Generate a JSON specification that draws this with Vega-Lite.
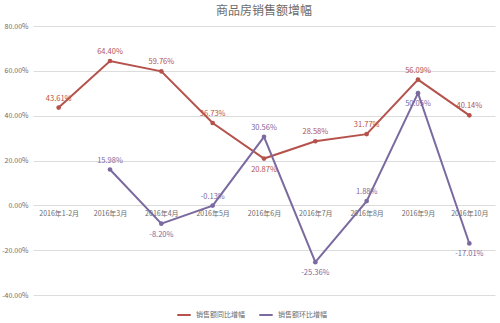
{
  "$schema": "https://vega.github.io/schema/vega-lite/v6.json",
  "width": 462,
  "height": 269,
  "autosize": {"type": "none"},
  "padding": {"left": 33, "top": 26, "right": 5, "bottom": 28},
  "background": "white",
  "title": {"text": "商品房销售额增幅", "fontSize": 12, "fontWeight": "normal", "color": "#6b6b6b", "font": "Noto Sans CJK SC", "anchor": "middle", "offset": 4},
  "config": {
    "view": {"stroke": null},
    "font": "Noto Sans CJK SC",
    "axis": {"labelFont": "Noto Sans CJK SC", "labelColor": "#6b6b6b", "labelFontSize": 7}
  },
  "data": {"values": [
    {"month": "2016年1-2月", "series": "销售额同比增幅", "v": 43.61},
    {"month": "2016年3月", "series": "销售额同比增幅", "v": 64.40},
    {"month": "2016年4月", "series": "销售额同比增幅", "v": 59.76},
    {"month": "2016年5月", "series": "销售额同比增幅", "v": 36.73},
    {"month": "2016年6月", "series": "销售额同比增幅", "v": 20.87},
    {"month": "2016年7月", "series": "销售额同比增幅", "v": 28.58},
    {"month": "2016年8月", "series": "销售额同比增幅", "v": 31.77},
    {"month": "2016年9月", "series": "销售额同比增幅", "v": 56.09},
    {"month": "2016年10月", "series": "销售额同比增幅", "v": 40.14},
    {"month": "2016年3月", "series": "销售额环比增幅", "v": 15.98},
    {"month": "2016年4月", "series": "销售额环比增幅", "v": -8.20},
    {"month": "2016年5月", "series": "销售额环比增幅", "v": -0.13},
    {"month": "2016年6月", "series": "销售额环比增幅", "v": 30.56},
    {"month": "2016年7月", "series": "销售额环比增幅", "v": -25.36},
    {"month": "2016年8月", "series": "销售额环比增幅", "v": 1.88},
    {"month": "2016年9月", "series": "销售额环比增幅", "v": 50.05},
    {"month": "2016年10月", "series": "销售额环比增幅", "v": -17.01}
  ]},
  "encoding": {
    "x": {"field": "month", "type": "ordinal", "sort": null,
      "scale": {"type": "point", "padding": 0.5},
      "axis": {"title": null, "labelAngle": 0, "domain": false, "ticks": false, "grid": false, "offset": -89.7, "labelPadding": 4}},
    "y": {"field": "v", "type": "quantitative",
      "scale": {"domain": [-40, 80]},
      "axis": {"title": null, "values": [-40, -20, 0, 20, 40, 60, 80], "labelExpr": "replace(format(datum.value, '.2f'), '−', '-') + '%'", "domain": false, "ticks": false, "gridColor": "#dcdcdc", "labelPadding": 5}},
    "color": {"field": "series", "type": "nominal",
      "scale": {"domain": ["销售额同比增幅", "销售额环比增幅"], "range": ["#b5524c", "#7b6aa0"]}}
  },
  "layer": [
    {"mark": {"type": "line", "strokeWidth": 2},
     "encoding": {"color": {"field": "series", "type": "nominal",
        "scale": {"domain": ["销售额同比增幅", "销售额环比增幅"], "range": ["#b5524c", "#7b6aa0"]},
        "legend": {"title": null, "orient": "none", "direction": "horizontal", "legendX": 143, "legendY": 281, "symbolType": "stroke", "symbolStrokeWidth": 2, "symbolSize": 180, "labelFontSize": 7, "labelColor": "#6b6b6b", "columnPadding": 10}}}},
    {"mark": {"type": "point", "filled": true, "size": 22, "opacity": 1}},
    {"transform": [{"filter": "!((datum.series == '销售额同比增幅' && datum.month == '2016年6月') || (datum.series == '销售额环比增幅' && indexof(['2016年4月','2016年7月','2016年9月','2016年10月'], datum.month) >= 0))"}],
     "mark": {"type": "text", "dy": -9, "fontSize": 7.5, "text": {"expr": "replace(format(datum.v, '.2f'), '−', '-') + '%'"}},
     "encoding": {"color": {"field": "series", "type": "nominal", "legend": null, "scale": {"domain": ["销售额同比增幅", "销售额环比增幅"], "range": ["#9c4a45", "#7050a8"]}}}},
    {"transform": [{"filter": "(datum.series == '销售额同比增幅' && datum.month == '2016年6月') || (datum.series == '销售额环比增幅' && indexof(['2016年4月','2016年7月','2016年9月','2016年10月'], datum.month) >= 0)"}],
     "mark": {"type": "text", "dy": 11, "fontSize": 7.5, "text": {"expr": "replace(format(datum.v, '.2f'), '−', '-') + '%'"}},
     "encoding": {"color": {"field": "series", "type": "nominal", "legend": null, "scale": {"domain": ["销售额同比增幅", "销售额环比增幅"], "range": ["#9c4a45", "#7050a8"]}}}}
  ]
}
